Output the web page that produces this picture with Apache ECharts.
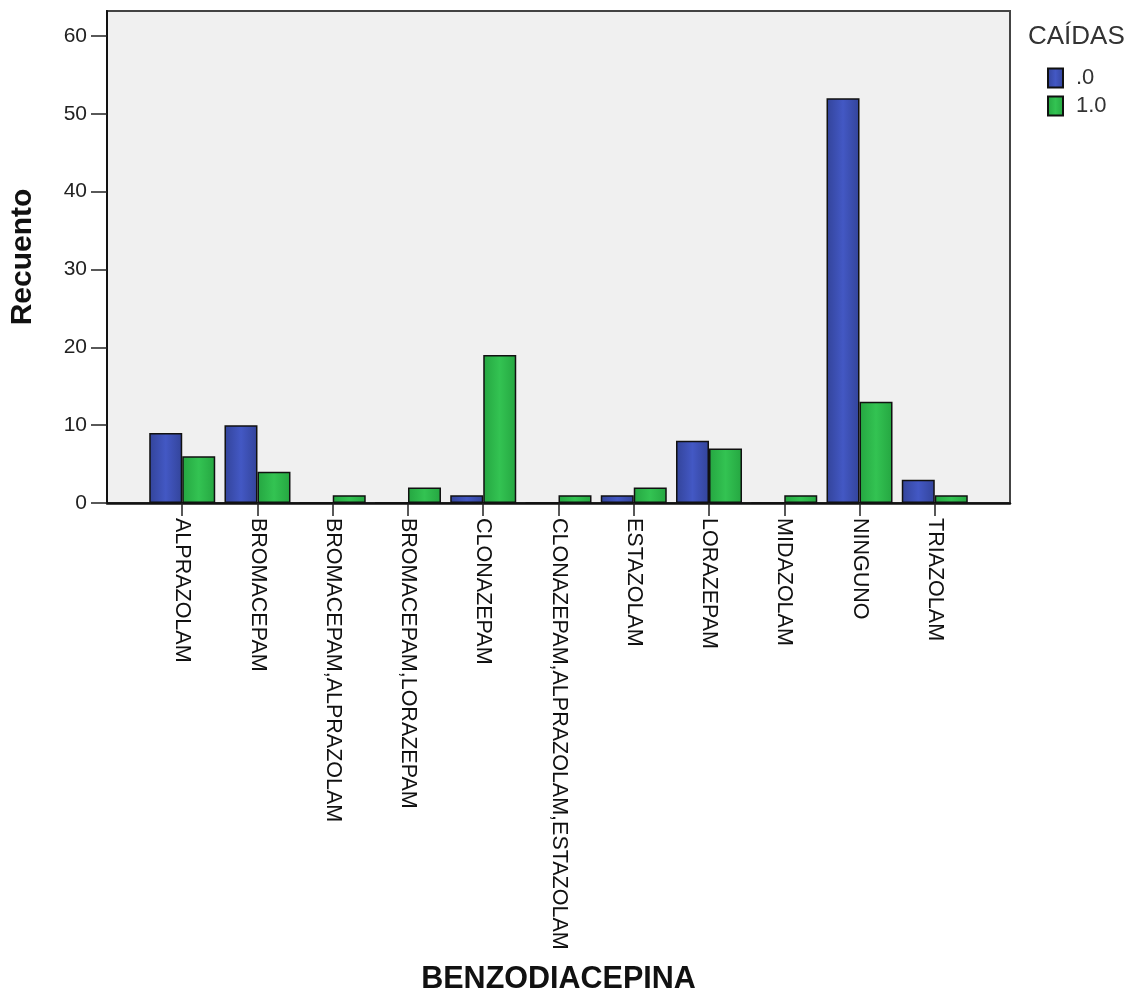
<!DOCTYPE html>
<html>
<head>
<meta charset="utf-8">
<script src="https://cdn.jsdelivr.net/npm/echarts@6/dist/echarts.min.js"></script>
<style>
html,body{margin:0;padding:0;background:#fff;}
#c{width:1136px;height:993px;}
</style>
</head>
<body>
<div id="c"></div>
<script>
const categories = ['ALPRAZOLAM','BROMACEPAM','BROMACEPAM,ALPRAZOLAM','BROMACEPAM,LORAZEPAM','CLONAZEPAM','CLONAZEPAM,ALPRAZOLAM,ESTAZOLAM','ESTAZOLAM','LORAZEPAM','MIDAZOLAM','NINGUNO','TRIAZOLAM'];
const seriesNames = ['.0', '1.0'];
const caidas0 = [9, 10, 0, 0, 1, 0, 1, 8, 0, 52, 3];
const caidas1 = [6, 4, 1, 2, 19, 1, 2, 7, 1, 13, 1];
const yTicks = [0, 10, 20, 30, 40, 50, 60];

const FONT = 'Liberation Sans, Arial, sans-serif';
const Y_MAX = 63.2;
function grad(edge, mid) {
  return new echarts.graphic.LinearGradient(0, 0, 1, 0, [
    {offset: 0, color: edge}, {offset: 0.5, color: mid}, {offset: 1, color: edge}
  ]);
}
const chart = echarts.init(document.getElementById('c'), null, {renderer: 'canvas'});
chart.setOption({
  animation: false,
  textStyle: {fontFamily: FONT},
  title: {
    text: 'CAÍDAS', left: 1023, top: 19,
    textStyle: {fontFamily: FONT, fontSize: 26, fontWeight: 'normal', color: '#333'}
  },
  legend: {
    data: seriesNames, orient: 'vertical', left: 1042, top: 62,
    icon: 'rect', itemWidth: 15, itemHeight: 19, itemGap: 6,
    textStyle: {fontFamily: FONT, fontSize: 22, color: '#333', padding: [0, 0, 0, 8]}
  },
  grid: [
    {left: 107, top: 11, width: 903, height: 492, show: true, backgroundColor: '#f0f0f0', borderColor: '#444', borderWidth: 2, containLabel: false, outerBoundsMode: 'none'},
    {left: 144.6, top: 11, width: 827.8, height: 492, containLabel: false, outerBoundsMode: 'none'}
  ],
  xAxis: [
    {gridIndex: 0, type: 'value', min: 0, max: 1, axisLabel: {show: false}, axisTick: {show: false}, splitLine: {show: false},
     axisLine: {show: true, lineStyle: {color: '#111', width: 2.5}}},
    {gridIndex: 1, type: 'category', data: categories,
     axisLine: {show: false},
     axisTick: {show: true, alignWithLabel: true, length: 13, lineStyle: {color: '#222', width: 1.5}},
     axisLabel: {rotate: -90, fontSize: 21.5, color: '#111', margin: 15, interval: 0, fontFamily: FONT},
     name: 'BENZODIACEPINA', nameLocation: 'middle', nameGap: 461,
     nameTextStyle: {fontSize: 30.5, fontWeight: 'bold', color: '#111', fontFamily: FONT}}
  ],
  yAxis: [
    {gridIndex: 0, type: 'value', min: 0, max: Y_MAX, interval: 10,
     axisLine: {show: true, lineStyle: {color: '#111', width: 2}},
     axisTick: {show: true, length: 16, customValues: yTicks, lineStyle: {color: '#222', width: 1.5}},
     axisLabel: {fontSize: 21, color: '#222', margin: 20, customValues: yTicks, fontFamily: FONT},
     splitLine: {show: false},
     name: 'Recuento', nameLocation: 'middle', nameRotate: 90, nameGap: 69,
     nameTextStyle: {fontSize: 30, fontWeight: 'bold', color: '#111', fontFamily: FONT}},
    {gridIndex: 1, type: 'value', min: 0, max: Y_MAX, show: false, splitLine: {show: false}}
  ],
  series: [
    {name: seriesNames[0], type: 'bar', xAxisIndex: 1, yAxisIndex: 1, data: caidas0,
     barWidth: 33, barGap: '0%',
     itemStyle: {color: grad('#33449a', '#4358c4'), borderColor: '#111', borderWidth: 1.5}},
    {name: seriesNames[1], type: 'bar', xAxisIndex: 1, yAxisIndex: 1, data: caidas1,
     barWidth: 33, barGap: '0%',
     itemStyle: {color: grad('#25a641', '#33c352'), borderColor: '#111', borderWidth: 1.5}}
  ]
});
</script>
</body>
</html>
